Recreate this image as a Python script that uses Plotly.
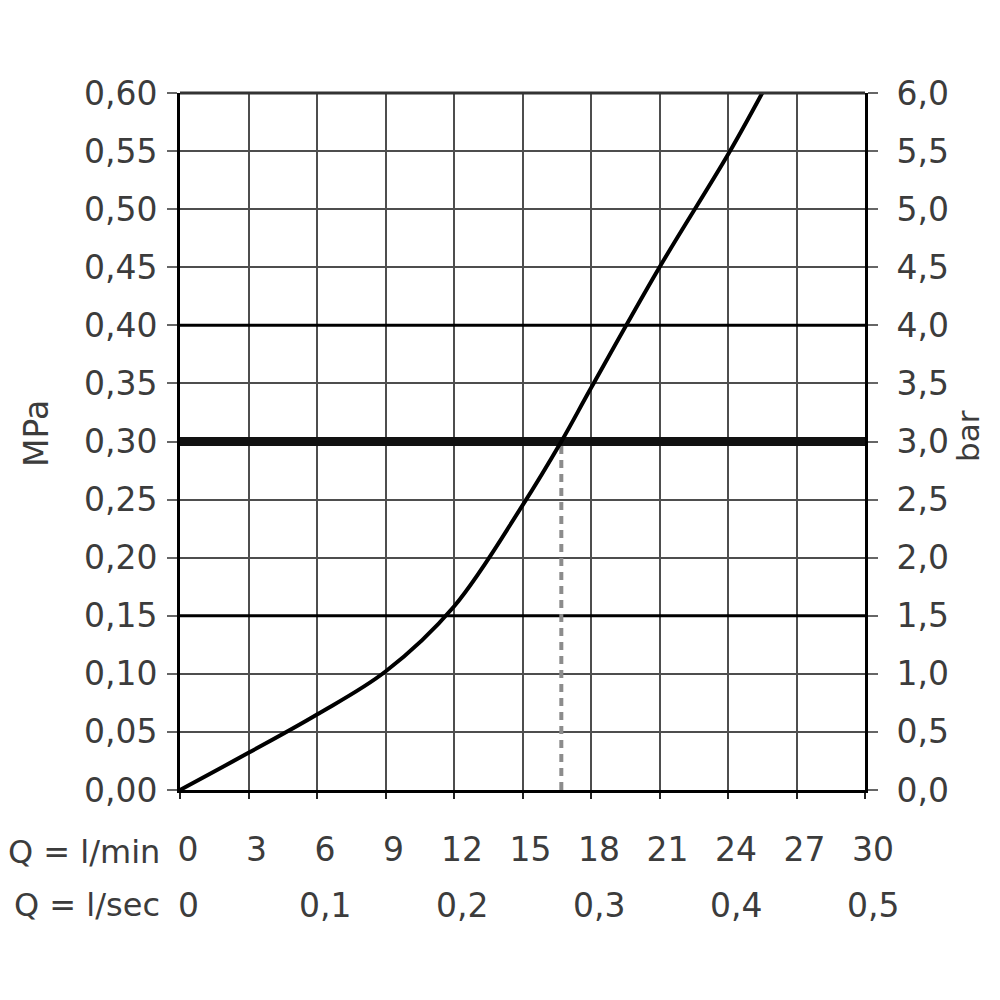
import plotly.graph_objects as go

# Flow (l/min) vs pressure (MPa) curve
flow_lpm = [0, 3, 6, 9, 12, 15, 16.7, 18, 21, 24, 25.5]
pressure_mpa = [0, 0.032, 0.065, 0.102, 0.158, 0.245, 0.30, 0.346, 0.45, 0.547, 0.60]

# Reference line: 0.30 MPa reached at ~16.7 l/min
ref_pressure = 0.30
ref_flow = 16.7
emphasis_lines = [0.15, 0.40]

# Tick labels
mpa_vals = [0, 0.05, 0.10, 0.15, 0.20, 0.25, 0.30, 0.35, 0.40, 0.45, 0.50, 0.55, 0.60]
mpa_text = ["0,00", "0,05", "0,10", "0,15", "0,20", "0,25", "0,30", "0,35", "0,40", "0,45", "0,50", "0,55", "0,60"]
bar_vals = [0, 0.5, 1.0, 1.5, 2.0, 2.5, 3.0, 3.5, 4.0, 4.5, 5.0, 5.5, 6.0]
bar_text = ["0,0", "0,5", "1,0", "1,5", "2,0", "2,5", "3,0", "3,5", "4,0", "4,5", "5,0", "5,5", "6,0"]
lpm_vals = [0, 3, 6, 9, 12, 15, 18, 21, 24, 27, 30]
lpm_text = ["0", "3", "6", "9", "12", "15", "18", "21", "24", "27", "30"]
lps_pos = [0, 6, 12, 18, 24, 30]
lps_text = ["0", "0,1", "0,2", "0,3", "0,4", "0,5"]

FONT = "DejaVu Sans"
FS = 33
TXT = "#3c3c3c"
GRID = "#4e4e4e"

# page offset (browser body margin) compensation
OFF = 8
W = H = 984
L, T = 180 - OFF, 93 - OFF
PW, PH = 685, 697
R = W - L - PW
B = H - T - PH


def px(xpage):
    return (xpage - 180) / PW


def py(ypage):
    return (790 - ypage) / PH


fig = go.Figure()

fig.add_trace(go.Scatter(
    x=[ref_flow, ref_flow], y=[0, ref_pressure], mode="lines",
    line=dict(color="#8c8c8c", width=4, dash="8px,6px"), showlegend=False, hoverinfo="skip"))

fig.add_trace(go.Scatter(
    x=flow_lpm, y=pressure_mpa, mode="lines",
    line=dict(color="black", width=4, shape="spline", smoothing=1.0),
    showlegend=False))

# invisible trace for right axis
fig.add_trace(go.Scatter(x=[0], y=[0], yaxis="y2", mode="markers",
                         marker=dict(opacity=0), showlegend=False, hoverinfo="skip"))

for yv in emphasis_lines:
    fig.add_shape(type="line", xref="x", yref="y", x0=0, x1=30, y0=yv, y1=yv,
                  line=dict(color="black", width=3), layer="between")
fig.add_shape(type="line", xref="x", yref="y", x0=0, x1=30, y0=ref_pressure, y1=ref_pressure,
              line=dict(color="#111", width=9), layer="between")

fig.update_layout(
    width=W, height=H,
    margin=dict(l=L, r=R, t=T, b=B, autoexpand=False),
    paper_bgcolor="white", plot_bgcolor="white",
    font=dict(family=FONT, size=FS, color=TXT),
    xaxis=dict(range=[0, 30], tickvals=lpm_vals, ticktext=lpm_text,
               showgrid=True, gridcolor=GRID, gridwidth=2,
               showline=True, linecolor="black", linewidth=3, mirror=False,
               ticks="outside", ticklen=6, tickwidth=2, tickcolor="#222",
               ticklabelstandoff=22, ticklabelshift=8, zeroline=False,
               tickfont=dict(family=FONT, size=FS, color=TXT)),
    yaxis=dict(range=[0, 0.6], tickvals=mpa_vals, ticktext=mpa_text,
               showgrid=True, gridcolor=GRID, gridwidth=2,
               showline=True, linecolor="black", linewidth=3,
               ticks="outside", ticklen=10, tickwidth=2, tickcolor="#666",
               ticklabelstandoff=3, zeroline=False,
               tickfont=dict(family=FONT, size=FS, color=TXT)),
    yaxis2=dict(range=[0, 6], overlaying="y", side="right", tickvals=bar_vals, ticktext=bar_text,
                showgrid=False, showline=True, linecolor="black", linewidth=3,
                ticks="outside", ticklen=10, tickwidth=2, tickcolor="#666",
                ticklabelstandoff=12, zeroline=False,
                tickfont=dict(family=FONT, size=FS, color=TXT)),
)

# top border
fig.add_shape(type="line", xref="paper", yref="paper", x0=0, x1=1, y0=1, y1=1,
              line=dict(color="#333", width=3))

# axis titles
fig.add_annotation(text="MPa", xref="paper", yref="paper", x=px(36), y=py(434),
                   xanchor="center", yanchor="middle", showarrow=False,
                   textangle=-90, font=dict(size=FS, color=TXT))
fig.add_annotation(text="bar", xref="paper", yref="paper", x=px(968), y=py(436),
                   xanchor="center", yanchor="middle", showarrow=False,
                   textangle=-90, font=dict(size=FS - 2, color=TXT))

# bottom row labels
fig.add_annotation(text="Q = l/min", xref="paper", yref="paper", x=px(162),
                   y=py(852), xanchor="right", yanchor="middle", showarrow=False,
                   font=dict(size=FS - 1, color=TXT))
fig.add_annotation(text="Q = l/sec", xref="paper", yref="paper", x=px(162),
                   y=py(905), xanchor="right", yanchor="middle", showarrow=False,
                   font=dict(size=FS - 1, color=TXT))
for pos, txt in zip(lps_pos, lps_text):
    fig.add_annotation(text=txt, x=pos, xref="x", yref="paper", y=py(905),
                       xanchor="center", yanchor="middle", xshift=8, showarrow=False,
                       font=dict(size=FS, color=TXT))

fig.write_html("out.html")
